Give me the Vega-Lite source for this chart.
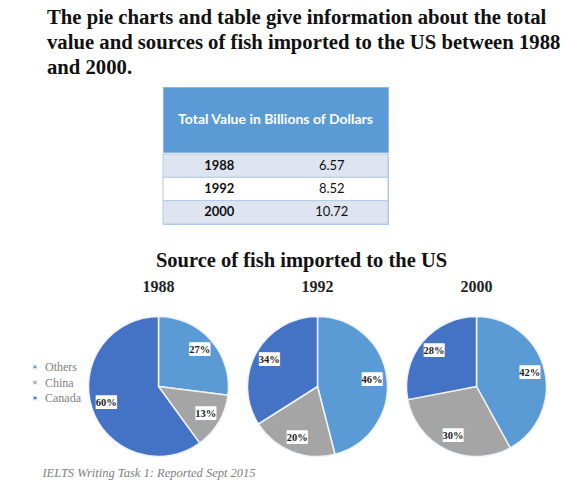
{
  "$schema": "https://vega.github.io/schema/vega-lite/v6.json",
  "background": "white",
  "padding": {"top": 6, "left": 29, "right": 5, "bottom": 5},
  "title": {
    "text": [
      "The pie charts and table give information about the total",
      "value and sources of fish imported to the US between 1988",
      "and 2000."
    ],
    "anchor": "start",
    "font": "Liberation Serif",
    "fontSize": 20.7,
    "fontWeight": "bold",
    "lineHeight": 25,
    "color": "#111111",
    "dx": 18,
    "offset": 8
  },
  "datasets": {
    "totals": [
      {"year": "1988", "value": "6.57"},
      {"year": "1992", "value": "8.52"},
      {"year": "2000", "value": "10.72"}
    ],
    "sources": [
      {"year": "1988", "source": "Others", "pct": 0.27},
      {"year": "1988", "source": "China", "pct": 0.13},
      {"year": "1988", "source": "Canada", "pct": 0.60},
      {"year": "1992", "source": "Others", "pct": 0.46},
      {"year": "1992", "source": "China", "pct": 0.20},
      {"year": "1992", "source": "Canada", "pct": 0.34},
      {"year": "2000", "source": "Others", "pct": 0.42},
      {"year": "2000", "source": "China", "pct": 0.30},
      {"year": "2000", "source": "Canada", "pct": 0.28}
    ]
  },
  "resolve": {"scale": {"x": "independent", "y": "independent", "color": "independent", "theta": "independent"}},
  "spacing": 25,
  "vconcat": [
    {
      "spacing": 0,
      "hconcat": [
        {
          "width": 74,
          "height": 1,
          "data": {"values": []},
          "mark": "point",
          "encoding": {}
        },
        {
          "spacing": 0,
          "vconcat": [
            {
              "width": 225,
              "height": 65,
              "view": {"fill": "#5b9bd5", "stroke": "#8db4e2"},
              "data": {"values": [{"header": "Total Value in Billions of Dollars"}]},
              "mark": {"type": "text", "font": "Lato", "fontSize": 14, "fontWeight": "bold", "color": "white"},
              "encoding": {"text": {"field": "header"}}
            },
            {
              "width": 225,
              "height": 70,
              "view": {"stroke": "#a9c6e6"},
              "data": {"name": "totals"},
              "encoding": {
                "y": {"field": "year", "type": "ordinal", "axis": null, "scale": {"paddingInner": 0, "paddingOuter": 0}}
              },
              "layer": [
                {
                  "mark": {"type": "rect", "stroke": "#b4cbe6", "strokeWidth": 1},
                  "encoding": {
                    "fill": {"condition": {"test": "datum.year === '1992'", "value": "#ffffff"}, "value": "#dfe5f0"}
                  }
                },
                {
                  "mark": {"type": "text", "font": "Lato", "fontSize": 13, "fontWeight": "bold", "color": "#111111"},
                  "encoding": {
                    "x": {"datum": "Year", "type": "nominal", "axis": null, "scale": {"domain": ["Year", "Value"]}},
                    "text": {"field": "year"}
                  }
                },
                {
                  "mark": {"type": "text", "font": "Lato", "fontSize": 13, "color": "#111111"},
                  "encoding": {
                    "x": {"datum": "Value", "type": "nominal", "axis": null, "scale": {"domain": ["Year", "Value"]}},
                    "text": {"field": "value"}
                  }
                }
              ]
            }
          ]
        }
      ]
    },
    {
      "spacing": 6,
      "vconcat": [
        {
          "data": {"name": "sources"},
          "title": {
            "text": "Source of fish imported to the US",
            "font": "Liberation Serif",
            "fontSize": 20.5,
            "fontWeight": "bold",
            "anchor": "middle",
            "color": "#111111",
            "dx": -16,
            "offset": 8
          },
          "facet": {
            "column": {
              "field": "year",
              "type": "ordinal",
              "title": null,
              "header": {
                "labelFont": "Liberation Serif",
                "labelFontSize": 16,
                "labelFontWeight": "bold",
                "labelColor": "#222222",
                "labelPadding": 18
              }
            }
          },
          "spacing": 12,
          "spec": {
            "width": 141,
            "height": 141,
            "encoding": {
              "theta": {"field": "pct", "type": "quantitative", "stack": true},
              "order": {"field": "source", "sort": "descending"}
            },
            "layer": [
              {
                "mark": {"type": "arc", "outerRadius": 70, "stroke": "#eef2f7", "strokeWidth": 1.5},
                "encoding": {
                  "color": {
                    "field": "source",
                    "type": "nominal",
                    "scale": {"domain": ["Others", "China", "Canada"], "range": ["#5b9bd5", "#a5a5a5", "#4472c4"]},
                    "legend": {
                      "orient": "none",
                      "legendX": -59,
                      "legendY": 45,
                      "title": null,
                      "symbolType": "square",
                      "symbolSize": 18,
                      "labelOffset": 4,
                      "labelFont": "Liberation Serif",
                      "labelFontSize": 12,
                      "labelColor": "#7f7f7f",
                      "rowPadding": 3.5
                    }
                  }
                }
              },
              {
                "mark": {"type": "text", "radius": 55, "text": "\u2588\u2588\u2588", "font": "DejaVu Sans Mono", "fontSize": 11.5, "color": "white"},
                "encoding": {"detail": {"field": "source"}}
              },
              {
                "mark": {"type": "text", "radius": 55, "font": "Liberation Serif", "fontSize": 10.5, "fontWeight": "bold", "color": "#222222"},
                "encoding": {
                  "detail": {"field": "source"},
                  "text": {"field": "pct", "type": "quantitative", "format": ".0%"}
                }
              }
            ]
          }
        },
        {
          "width": 122,
          "height": 14,
          "data": {"values": [{"note": "IELTS Writing Task 1: Reported Sept 2015"}]},
          "mark": {"type": "text", "font": "Liberation Serif", "fontStyle": "italic", "fontSize": 12.5, "color": "#808080"},
          "encoding": {"text": {"field": "note"}}
        }
      ]
    }
  ],
  "config": {
    "view": {"stroke": null}
  }
}
